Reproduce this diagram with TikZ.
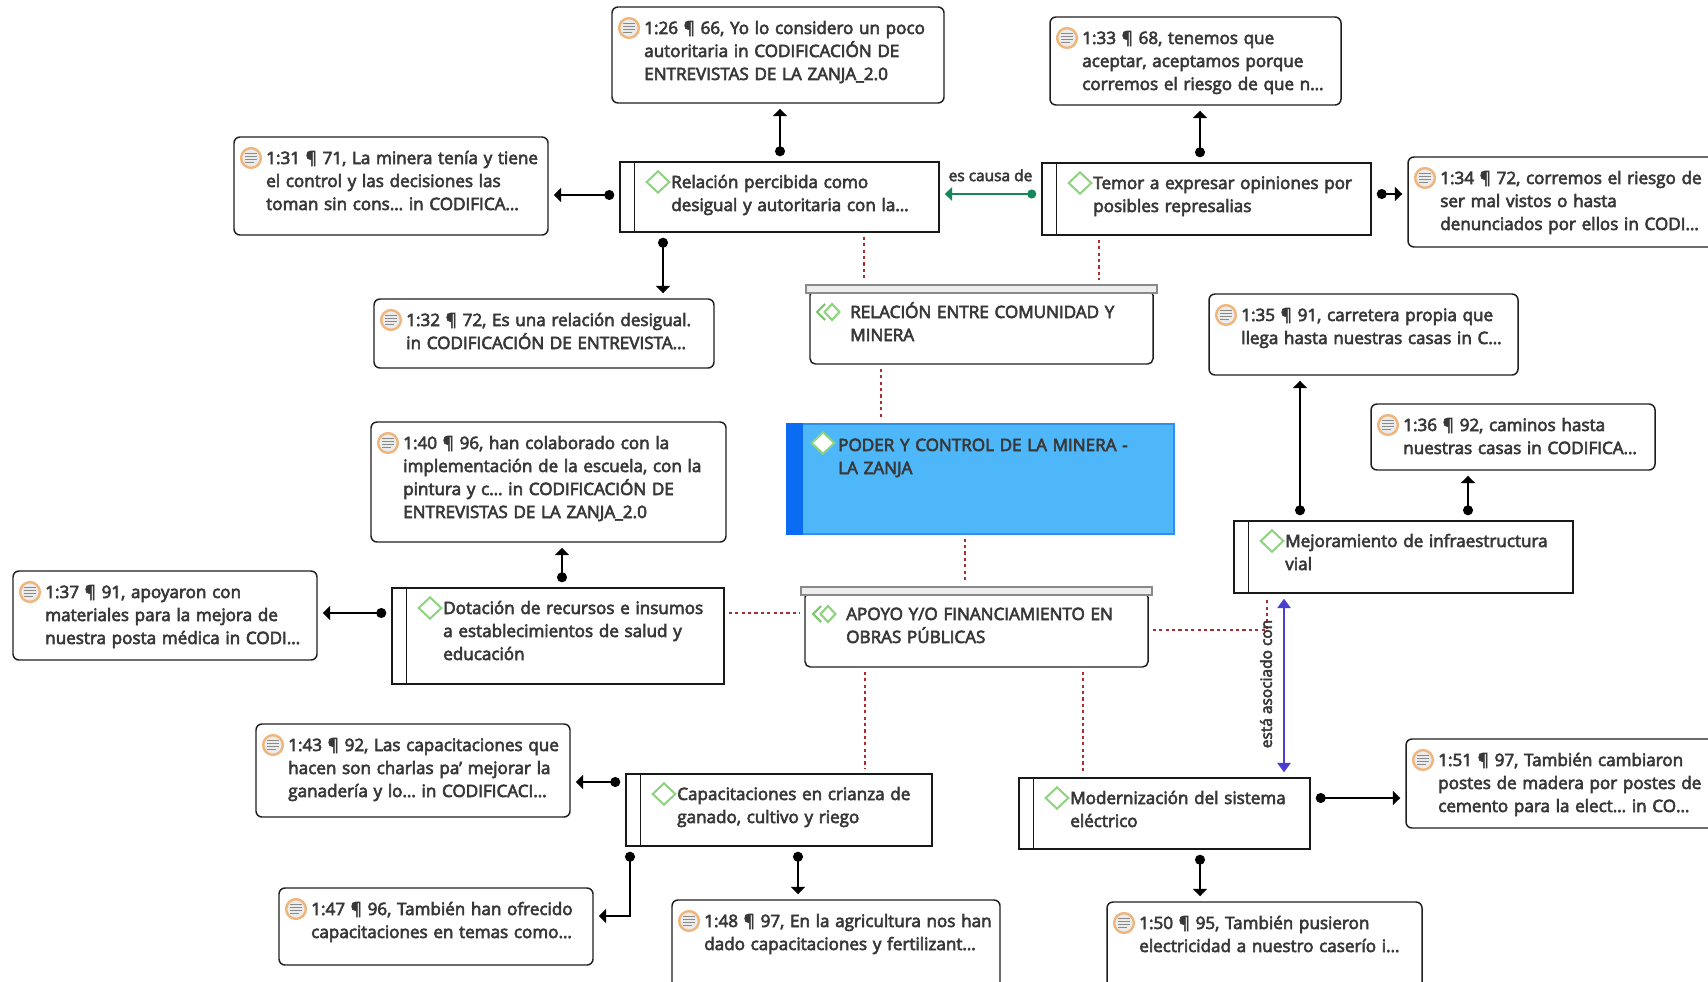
\documentclass[tikz,border=0pt]{standalone}
\usepackage{fontspec}
\setmainfont{Open Sans}[RawFeature={embolden=3.5}]
\usetikzlibrary{arrows.meta,fit,calc}
\definecolor{txtc}{HTML}{383838}
\definecolor{redd}{HTML}{B22B2B}
\definecolor{greenc}{HTML}{16875A}
\definecolor{bluec}{HTML}{4B3FD0}
\definecolor{diag}{HTML}{8FD27F}
\definecolor{diagdark}{HTML}{7CC96C}
\definecolor{mainfill}{HTML}{4EB7F9}
\definecolor{mainbar}{HTML}{0A6CF2}
\definecolor{mainborder}{HTML}{2E90E8}
\definecolor{barfill}{HTML}{EDEDED}
\definecolor{bargrey}{HTML}{8A8A8A}
\definecolor{iconring}{HTML}{EFB57A}
\definecolor{iconfill}{HTML}{EBEBEB}
\definecolor{iconline}{HTML}{8A8A8A}
\tikzset{
  qframe/.style={draw=black!88, line width=1.1pt, rounded corners=4.5pt, inner sep=0pt, fill=white},
  cframe/.style={draw=black!90, line width=1.1pt, inner sep=0pt, fill=white},
  nframe/.style={draw=black!88, line width=1.1pt, rounded corners=4pt, inner sep=0pt, fill=white},
  barframe/.style={draw=bargrey, line width=0.9pt, inner sep=0pt, fill=barfill},
  mainframe/.style={draw=mainborder, line width=0.9pt, inner sep=0pt, fill=mainfill},
  txt/.style={text=txtc, font=\fontsize{12.8}{17.25}\selectfont, inner sep=0pt, align=left, text width=300pt, anchor=base west},
  lbl/.style={text=txtc, font=\fontsize{11.6}{14}\selectfont, inner sep=0pt},
  conn/.style={line width=1.1pt, black, {Circle[length=7.5pt]}-{Triangle[width=10.5pt,length=5.5pt]}, shorten <=3.75pt, shorten >=3.75pt},
  gconn/.style={line width=1.1pt, greenc, {Circle[length=6.8pt]}-{Triangle[width=10pt,length=5.5pt]}, shorten <=3.75pt, shorten >=3.75pt},
  bconn/.style={line width=1.1pt, bluec, {Triangle[width=10pt,length=7pt]}-{Triangle[width=10pt,length=7pt]}, shorten <=3.75pt, shorten >=3.75pt},
  reddot/.style={line width=1.1pt, redd, dash pattern=on 2.4pt off 2.4pt, shorten <=3pt, shorten >=3pt},
  docicon/.pic={
    \draw[draw=iconring, fill=iconfill, line width=1.8pt] (0,0) circle[radius=7.4pt];
    \draw[iconline, line width=1pt] (-4.3pt,3.3pt) -- (4.3pt,3.3pt) (-4.3pt,1.1pt) -- (4.3pt,1.1pt)
      (-4.3pt,-1.1pt) -- (4.3pt,-1.1pt) (-4.3pt,-3.3pt) -- (2pt,-3.3pt);
  },
  codeicon/.pic={
    \draw[diag, line width=1.5pt, fill=white, line join=miter] (-8.5pt,0) -- (0,8pt) -- (8.5pt,0) -- (0,-8pt) -- cycle;
  },
  neticon/.pic={
    \draw[diag, line width=1.6pt] (-2.6pt,0) -- (3pt,6pt) -- (8.6pt,0) -- (3pt,-6pt) -- cycle;
    \draw[diagdark, line width=1.6pt] (-2.2pt,6pt) -- (-8.2pt,0) -- (-2.2pt,-6pt);
  },
  mainicon/.pic={
    \draw[diag, line width=1.5pt, fill=white] (-8.5pt,0) -- (0,8pt) -- (8.5pt,0) -- (0,-8pt) -- cycle;
  }
}
\newcommand\QBox[6]{%
  \node[qframe, fit={(#2,#3) (#4,#5)}] (#1) {};
  \pic at ({#2+17},{#3+21}) {docicon};
  \node[txt] (#1t) at ({#2+32},{#3+27}) {#6};
}
\newcommand\CBox[6]{%
  \node[cframe, fit={(#2,#3) (#4,#5)}] (#1) {};
  \draw[line width=1.1pt, black!90] ([xshift=11.25pt]#1.north west) -- ([xshift=11.25pt]#1.south west);
  \pic at ({#2+38},{#3+20}) {codeicon};
  \node[txt] (#1t) at ({#2+51},{#3+26}) {#6};
}
\begin{document}
\begin{tikzpicture}[x=0.75pt,y=-0.75pt]
\useasboundingbox (0,0) rectangle (1708,981);
\clip (0,0) rectangle (1708,981);
\fill[white] (0,0) rectangle (1708,981);

% quotation boxes
\QBox{q26}{612}{7}{944}{103}{1:26 ¶ 66, Yo lo considero un poco\\autoritaria in CODIFICACIÓN DE\\ENTREVISTAS DE LA ZANJA\_2.0}
\QBox{q33}{1050}{17}{1341}{105}{1:33 ¶ 68, tenemos que\\aceptar, aceptamos porque\\corremos el riesgo de que n…}
\QBox{q31}{234}{137}{548}{235}{1:31 ¶ 71, La minera tenía y tiene\\el control y las decisiones las\\toman sin cons… in CODIFICA…}
\QBox{q34}{1408}{157}{1722}{247}{1:34 ¶ 72, corremos el riesgo de\\ser mal vistos o hasta\\denunciados por ellos in CODI…}
\QBox{q32}{374}{299}{714}{368}{1:32 ¶ 72, Es una relación desigual.\\in CODIFICACIÓN DE ENTREVISTA…}
\QBox{q35}{1209}{294}{1518}{375}{1:35 ¶ 91, carretera propia que\\llega hasta nuestras casas in C…}
\QBox{q36}{1371}{404}{1655}{470}{1:36 ¶ 92, caminos hasta\\nuestras casas in CODIFICA…}
\QBox{q40}{371}{422}{726}{542}{1:40 ¶ 96, han colaborado con la\\implementación de la escuela, con la\\pintura y c… in CODIFICACIÓN DE\\ENTREVISTAS DE LA ZANJA\_2.0}
\QBox{q37}{13}{571}{317}{660}{1:37 ¶ 91, apoyaron con\\materiales para la mejora de\\nuestra posta médica in CODI…}
\QBox{q43}{256}{724}{570}{817}{1:43 ¶ 92, Las capacitaciones que\\hacen son charlas pa’ mejorar la\\ganadería y lo… in CODIFICACI…}
\QBox{q51}{1406}{739}{1722}{828}{1:51 ¶ 97, También cambiaron\\postes de madera por postes de\\cemento para la elect… in CO…}
\QBox{q47}{279}{888}{593}{965}{1:47 ¶ 96, También han ofrecido\\capacitaciones en temas como…}
\QBox{q48}{672}{900}{1000}{995}{1:48 ¶ 97, En la agricultura nos han\\dado capacitaciones y fertilizant…}
\QBox{q50}{1107}{902}{1422}{995}{1:50 ¶ 95, También pusieron\\electricidad a nuestro caserío i…}

% code boxes
\CBox{crel}{620}{162}{939}{232}{Relación percibida como\\desigual y autoritaria con la…}
\CBox{ctemor}{1042}{163}{1371}{235}{Temor a expresar opiniones por\\posibles represalias}
\CBox{cdot}{392}{588}{724}{684}{Dotación de recursos e insumos\\a establecimientos de salud y\\educación}
\CBox{cmej}{1234}{521}{1573}{593}{Mejoramiento de infraestructura\\vial}
\CBox{ccap}{626}{774}{932}{846}{Capacitaciones en crianza de\\ganado, cultivo y riego}
\CBox{cmod}{1019}{778}{1310}{849}{Modernización del sistema\\eléctrico}

% network boxes
\node[nframe, fit={(810,290) (1153,364)}] (nrel) {};
\node[barframe, fit={(806,285) (1157,293)}] (nrelbar) {};
\pic at (828,312) {neticon};
\node[txt] (nrelt) at (850,318) {RELACIÓN ENTRE COMUNIDAD Y\\MINERA};

\node[nframe, fit={(805,592) (1148,667)}] (napoyo) {};
\node[barframe, fit={(801,587) (1152,595)}] (napoyobar) {};
\pic at (824,614) {neticon};
\node[txt] (napoyot) at (846,620) {APOYO Y/O FINANCIAMIENTO EN\\OBRAS PÚBLICAS};

% main node
\node[mainframe, fit={(787,424) (1174,534)}] (main) {};
\fill[mainbar] (main.north west) rectangle ([xshift=12.75pt]main.south west);
\pic at (823,443) {mainicon};
\node[txt] (maint) at (838,451) {PODER Y CONTROL DE LA MINERA -\\LA ZANJA};

% red dotted links
\draw[reddot] (864,0 |- crel.south) -- (864,0 |- nrelbar.north);
\draw[reddot] (1099,0 |- ctemor.south) -- (1099,0 |- nrelbar.north);
\draw[reddot] (881,0 |- nrel.south) -- (881,0 |- main.north);
\draw[reddot] (965,0 |- main.south) -- (965,0 |- napoyobar.north);
\draw[reddot] (cdot.east |- 0,613) -- (napoyo.west |- 0,613);
\draw[reddot] (napoyo.east |- 0,630) -| (1267,0 |- cmej.south);
\draw[reddot] (865,0 |- napoyo.south) -- (865,0 |- ccap.north);
\draw[reddot] (1083,0 |- napoyo.south) -- (1083,0 |- cmod.north);

% black connectors
\draw[conn] (780,0 |- crel.north) -- (780,0 |- q26.south);
\draw[conn] (crel.west |- 0,195) -- (q31.east |- 0,195);
\draw[conn] (663,0 |- crel.south) -- (663,0 |- q32.north);
\draw[conn] (1200,0 |- ctemor.north) -- (1200,0 |- q33.south);
\draw[conn] (ctemor.east |- 0,194) -- (q34.west |- 0,194);
\draw[conn] (1300,0 |- cmej.north) -- (1300,0 |- q35.south);
\draw[conn] (1468,0 |- cmej.north) -- (1468,0 |- q36.south);
\draw[conn] (562,0 |- cdot.north) -- (562,0 |- q40.south);
\draw[conn] (cdot.west |- 0,613) -- (q37.east |- 0,613);
\draw[conn] (ccap.west |- 0,782) -- (q43.east |- 0,782);
\draw[conn] (630,0 |- ccap.south) |- (q47.east |- 0,916);
\draw[conn] (798,0 |- ccap.south) -- (798,0 |- q48.north);
\draw[conn] (cmod.east |- 0,798) -- (q51.west |- 0,798);
\draw[conn] (1200,0 |- cmod.south) -- (1200,0 |- q50.north);

% labelled relations
\draw[gconn] (ctemor.west |- 0,194) -- node[lbl, above=9pt] (lblcausa) {es causa de} (crel.east |- 0,194);
\draw[bconn] (1284,0 |- cmej.south) -- (1284,0 |- cmod.north);
\node[lbl, rotate=90] (lblasoc) at (1266,684) {está asociado con};
\end{tikzpicture}
\end{document}
